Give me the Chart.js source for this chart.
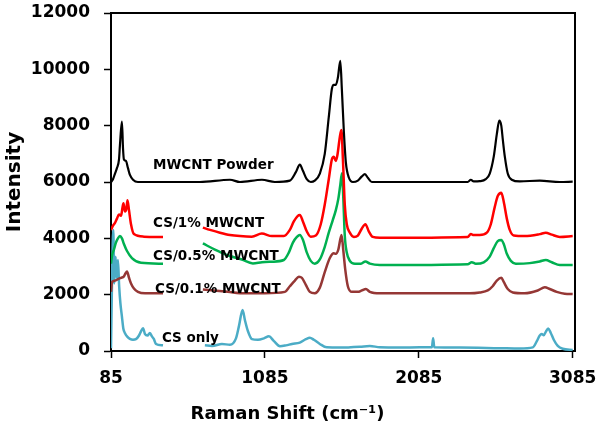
<!DOCTYPE html>
<html>
<head>
<meta charset="utf-8">
<script src="https://cdn.jsdelivr.net/npm/chart.js@4.4.1/dist/chart.umd.min.js"></script>
<style>
  body { margin: 0; background: #fff; }
</style>
</head>
<body>
<canvas id="chartRaman" width="602" height="431"></canvas>
<script>
// Raman spectra. null = no data in that stretch.
const powderX = [85, 98, 111, 124, 137, 143, 156, 163, 169, 182, 195, 208, 228, 260, 403, 663, 858, 923, 1066, 1150, 1247, 1286, 1312, 1332, 1357, 1383, 1409, 1442, 1474, 1500, 1520, 1533, 1546, 1559, 1575, 1585, 1598, 1611, 1631, 1657, 1689, 1715, 1735, 1754, 1780, 2092, 2403, 2423, 2442, 2481, 2520, 2546, 2572, 2592, 2608, 2621, 2631, 2644, 2663, 2689, 2741, 2871, 3001, 3085];
const powderY = [6000, 6100, 6300, 6500, 6800, 7300, 8140, 7200, 6800, 6750, 6500, 6250, 6080, 6000, 6000, 6000, 6080, 6000, 6080, 6000, 6050, 6350, 6620, 6400, 6100, 6000, 6050, 6300, 7000, 8300, 9300, 9450, 9450, 9700, 10300, 9300, 7800, 6700, 6150, 6000, 6050, 6200, 6280, 6150, 6000, 6000, 6000, 6080, 6020, 6030, 6100, 6300, 6900, 7700, 8180, 8000, 7500, 6900, 6300, 6080, 6020, 6050, 6000, 6010];

const cs1X = [85, 98, 111, 124, 137, 150, 160, 166, 176, 185, 192, 202, 215, 234, 299, 423, 424, 682, 728, 793, 858, 923, 1000, 1065, 1130, 1208, 1247, 1273, 1299, 1312, 1332, 1357, 1383, 1416, 1448, 1474, 1500, 1520, 1533, 1546, 1556, 1572, 1582, 1592, 1604, 1617, 1637, 1663, 1689, 1715, 1738, 1760, 1786, 1832, 2403, 2423, 2442, 2481, 2527, 2553, 2578, 2598, 2621, 2637, 2657, 2676, 2702, 2773, 2871, 2910, 2949, 3001, 3085];
const cs1Y = [4300, 4450, 4550, 4700, 4850, 4800, 5100, 5250, 4950, 5050, 5350, 5000, 4500, 4150, 4060, 4050, null, 4380, 4300, 4200, 4120, 4080, 4060, 4170, 4080, 4080, 4300, 4600, 4800, 4830, 4600, 4250, 4060, 4100, 4500, 5200, 6100, 6800, 6900, 6750, 6950, 7600, 7850, 6800, 5200, 4500, 4200, 4050, 4100, 4350, 4500, 4250, 4050, 4020, 4050, 4150, 4120, 4120, 4200, 4500, 5100, 5500, 5620, 5300, 4700, 4300, 4100, 4080, 4150, 4200, 4130, 4050, 4080];

const cs05X = [85, 92, 104, 117, 130, 143, 156, 169, 189, 221, 280, 423, 424, 682, 760, 843, 935, 1007, 1066, 1130, 1208, 1241, 1267, 1293, 1312, 1332, 1357, 1383, 1409, 1442, 1474, 1500, 1526, 1546, 1562, 1575, 1586, 1594, 1604, 1617, 1637, 1670, 1709, 1738, 1767, 1832, 2403, 2429, 2455, 2507, 2546, 2572, 2598, 2621, 2637, 2657, 2683, 2715, 2806, 2871, 2910, 2949, 3001, 3085];
const cs05Y = [3100, 3400, 3600, 3850, 4000, 4080, 4000, 3800, 3550, 3300, 3130, 3100, null, 3820, 3600, 3400, 3250, 3110, 3150, 3170, 3230, 3500, 3850, 4050, 4120, 3950, 3500, 3200, 3100, 3250, 3700, 4200, 4650, 5000, 5400, 5900, 6310, 5500, 4100, 3500, 3200, 3100, 3100, 3180, 3100, 3050, 3080, 3150, 3100, 3150, 3350, 3650, 3900, 3940, 3800, 3450, 3200, 3100, 3120, 3180, 3230, 3150, 3050, 3050];

const cs01X = [85, 92, 111, 130, 150, 169, 179, 189, 202, 215, 234, 260, 306, 403, 423, 424, 682, 843, 955, 1085, 1215, 1247, 1280, 1306, 1325, 1351, 1377, 1409, 1442, 1474, 1507, 1533, 1546, 1562, 1583, 1594, 1607, 1624, 1650, 1689, 1715, 1741, 1767, 1832, 2416, 2481, 2533, 2565, 2592, 2621, 2637, 2663, 2696, 2773, 2858, 2904, 2936, 2981, 3033, 3085];
const cs01Y = [2100, 2450, 2500, 2550, 2600, 2650, 2750, 2820, 2600, 2400, 2220, 2100, 2050, 2050, 2050, null, 2180, 2100, 2050, 2050, 2100, 2300, 2500, 2640, 2600, 2350, 2100, 2050, 2250, 2800, 3300, 3470, 3450, 3600, 4120, 3600, 2900, 2300, 2100, 2100, 2150, 2200, 2100, 2050, 2050, 2080, 2150, 2300, 2500, 2600, 2450, 2200, 2080, 2050, 2150, 2260, 2200, 2100, 2030, 2020];

const csOnlyX = [85, 93, 100, 106, 115, 122, 130, 138, 146, 156, 165, 176, 192, 208, 228, 247, 267, 280, 293, 306, 322, 338, 351, 364, 377, 423, 424, 695, 741, 806, 858, 897, 917, 940, 955, 975, 1001, 1040, 1079, 1111, 1144, 1183, 1222, 1261, 1312, 1351, 1377, 1403, 1442, 1487, 1572, 1702, 1767, 1832, 1962, 2092, 2170, 2178, 2186, 2351, 2611, 2741, 2826, 2852, 2871, 2884, 2897, 2910, 2926, 2942, 2962, 2988, 3020, 3085];
const csOnlyY = [100, 3000, 4300, 2400, 3350, 2600, 3230, 2300, 1700, 1220, 800, 630, 500, 430, 400, 420, 550, 700, 810, 600, 550, 640, 520, 420, 250, 200, null, 200, 180, 250, 220, 450, 900, 1460, 1100, 700, 420, 400, 450, 520, 350, 170, 200, 250, 300, 420, 470, 400, 250, 130, 120, 150, 180, 130, 120, 130, 130, 450, 130, 120, 100, 90, 130, 350, 550, 600, 560, 680, 800, 650, 400, 180, 80, 40];

const seriesNames = ['MWCNT Powder', 'CS/1% MWCNT', 'CS/0.5% MWCNT', 'CS/0.1% MWCNT', 'CS only'];
const seriesColors = ['#000000', '#ff0000', '#00b050', '#953735', '#4bacc6'];
const xTicks = [85, 1085, 2085, 3085];

// where the series names sit inside the plot (data units, left edge / middle)
const nameX = [358, 358, 358, 371, 416];
const nameY = [6570, 4510, 3370, 2200, 430];

function toPoints(xs, ys) {
  return xs.map((x, i) => ({ x: x, y: ys[i] }));
}

const allSeries = [
  [powderX, powderY], [cs1X, cs1Y], [cs05X, cs05Y], [cs01X, cs01Y], [csOnlyX, csOnlyY]
];

const datasets = allSeries.map(([xs, ys], i) => ({
  label: seriesNames[i],
  data: toPoints(xs, ys),
  borderColor: seriesColors[i],
  borderWidth: i === 0 ? 2.2 : 2.5,
  pointRadius: 0,
  spanGaps: false,
  cubicInterpolationMode: 'monotone'
}));

// series names written inside the plot, plus top/right frame
const plotExtras = {
  id: 'plotExtras',
  afterDatasetsDraw(chart) {
    const { ctx, chartArea, scales } = chart;
    ctx.save();
    ctx.strokeStyle = '#000';
    ctx.lineWidth = 2;
    ctx.beginPath();
    ctx.moveTo(chartArea.left, chartArea.top);
    ctx.lineTo(chartArea.right, chartArea.top);
    ctx.lineTo(chartArea.right, chartArea.bottom);
    ctx.stroke();

    ctx.font = 'bold 13.5px "DejaVu Sans"';
    ctx.fillStyle = '#000';
    ctx.textAlign = 'left';
    ctx.textBaseline = 'middle';
    seriesNames.forEach((name, i) => {
      ctx.fillText(name, scales.x.getPixelForValue(nameX[i]), scales.y.getPixelForValue(nameY[i]));
    });
    ctx.restore();
  }
};

new Chart(document.getElementById('chartRaman'), {
  type: 'line',
  data: { datasets: datasets },
  plugins: [plotExtras],
  options: {
    responsive: false,
    animation: false,
    devicePixelRatio: 1,
    layout: { padding: { top: 13, right: 27, left: 0, bottom: 0 } },
    plugins: {
      legend: { display: false },
      tooltip: { enabled: false },
      title: {
        display: true,
        position: 'bottom',
        text: 'Raman Shift (cm⁻¹)',
        color: '#000',
        font: { family: 'DejaVu Sans', size: 18, weight: 'bold' },
        padding: { top: 4, bottom: 6 }
      }
    },
    scales: {
      x: {
        type: 'linear',
        min: 85,
        max: 3100,
        afterBuildTicks: axis => { axis.ticks = xTicks.map(v => ({ value: v })); },
        afterFit: axis => {
          axis.height = 48.4;
          axis.paddingLeft = 0;
          axis.paddingRight = 0;
        },
        border: { display: true, color: '#000', width: 2 },
        grid: { drawOnChartArea: false, drawTicks: true, tickLength: 7, tickColor: '#000', tickWidth: 1.5 },
        ticks: {
          color: '#000',
          padding: 10,
          maxRotation: 0,
          font: { family: 'DejaVu Sans', size: 17, weight: 'bold' },
          callback: v => String(v)
        }
      },
      y: {
        min: 0,
        max: 12000,
        afterFit: axis => {
          axis.width = 111;
          axis.paddingTop = 0;
          axis.paddingBottom = 0;
        },
        border: { display: true, color: '#000', width: 2 },
        grid: { drawOnChartArea: false, drawTicks: true, tickLength: 7, tickColor: '#000', tickWidth: 1.5 },
        ticks: {
          stepSize: 2000,
          color: '#000',
          padding: 14,
          font: { family: 'DejaVu Sans', size: 17, weight: 'bold' },
          callback: v => String(v)
        },
        title: {
          display: true,
          text: 'Intensity',
          color: '#000',
          font: { family: 'DejaVu Sans', size: 20, weight: 'bold' },
          padding: { top: 3, bottom: 0 }
        }
      }
    }
  }
});
</script>
</body>
</html>
